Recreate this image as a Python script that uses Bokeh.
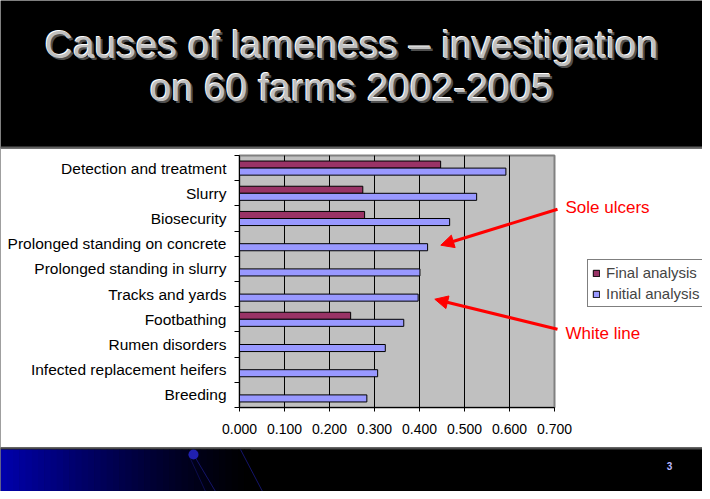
from bokeh.plotting import figure
from bokeh.models import (Range1d, FixedTicker, Arrow, NormalHead, Label, Legend,
                          LegendItem, ColumnDataSource, NumeralTickFormatter)
from bokeh.core.properties import value
from bokeh.embed import file_html
from bokeh.resources import INLINE

# ---------------- data ----------------
title_lines = ["Causes of lameness \u2013 investigation", "on 60 farms 2002-2005"]
categories = ["Detection and treatment", "Slurry", "Biosecurity",
              "Prolonged standing on concrete", "Prolonged standing in slurry",
              "Tracks and yards", "Footbathing", "Rumen disorders",
              "Infected replacement heifers", "Breeding"]
initial_analysis = [0.592, 0.527, 0.467, 0.418, 0.401, 0.397, 0.365, 0.324, 0.307, 0.283]
final_analysis = [0.447, 0.274, 0.278, None, None, None, 0.247, None, None, None]
x_ticks = [0.0, 0.1, 0.2, 0.3, 0.4, 0.5, 0.6, 0.7]
series_names = ["Final analysis", "Initial analysis"]
annotations = ["Sole ulcers", "White line"]
page_number = "3"

FONT = "Liberation Sans"
W, H = 702, 491          # canvas (page offset 8,8)

# layout helpers: page pixel -> data coordinate
PX0, PXU = 247.0, 450.0   # page x of value 0, pixels per unit
PY0, PYU = 415.0, 25.2    # page y of category baseline, pixels per category


def X(px):
    return (px - PX0) / PXU


def Y(py):
    return (PY0 - py) / PYU


n = len(categories)
xmax = max(x_ticks)

p = figure(width=W, height=H, x_range=Range1d(X(8), X(8 + W)), y_range=Range1d(Y(8 + H), Y(8)),
           toolbar_location=None, output_backend="svg", min_border=0,
           background_fill_color="black", border_fill_color="black",
           outline_line_color=None)

# ---- slide decoration ----
p.quad(left=[X(8)], right=[X(720)], top=[Y(156)], bottom=[Y(455)], fill_color="white", line_color=None)
p.quad(left=[X(8)], right=[X(720)], top=[Y(154)], bottom=[Y(156)], fill_color="#606060", line_color=None)
p.quad(left=[X(8)], right=[X(720)], top=[Y(455)], bottom=[Y(457)], fill_color="#4a4a4a", line_color=None)
steps = 40
span = 250.0
gl, gr, gc = [], [], []
for k in range(steps):
    f = 1 - k / steps
    gl.append(X(8 + k * span / steps))
    gr.append(X(8 + (k + 1) * span / steps + 0.6))
    gc.append("#%02x%02x%02x" % (0, 0, int(170 * f ** 1.3)))
p.quad(left=gl, right=gr, top=[Y(457)] * steps, bottom=[Y(500)] * steps, fill_color=gc, line_color=None)
p.line(x=[X(201), X(223)], y=[Y(462), Y(499)], line_color="#14146a", line_width=1)
p.line(x=[X(196), X(213)], y=[Y(462), Y(499)], line_color="#0c0c50", line_width=1)
p.line(x=[X(248), X(270)], y=[Y(457), Y(499)], line_color="#14146a", line_width=1)
p.scatter(x=[X(201)], y=[Y(462)], size=10, fill_color="#2020b0", line_color=None)
p.text(x=[X(677)], y=[Y(473)], text=[page_number], text_color="#b8b8ff", text_font=value(FONT),
       text_font_size="10px", text_font_style="bold", text_align="center", text_baseline="middle")

# title
ty_px = [52, 95]
common = dict(text=title_lines, text_align="center", text_baseline="middle",
              text_font=value(FONT), text_font_size="39px")
p.text(x=[X(361)] * 2, y=[Y(v + 2) for v in ty_px], text_color="#505050", **common)
p.text(x=[X(358)] * 2, y=[Y(v - 1) for v in ty_px], text_color="#ffffff", **common)
p.text(x=[X(359)] * 2, y=[Y(v) for v in ty_px], text_color="#c0c0c0", **common)

# ---- chart ----
p.quad(left=[0], right=[xmax], bottom=[0], top=[n], fill_color="#c0c0c0",
       line_color="#808080", line_width=2)
p.segment(x0=x_ticks[1:-1], x1=x_ticks[1:-1], y0=[0] * (len(x_ticks) - 2), y1=[n] * (len(x_ticks) - 2),
          line_color="black", line_width=1)

centers = [n - 1 - i + 0.5 for i in range(n)]
bar_h = 0.28
src_i = ColumnDataSource(dict(y=[c - bar_h / 2 for c in centers], right=initial_analysis))
fy = [c + bar_h / 2 for c, v in zip(centers, final_analysis) if v is not None]
fv = [v for v in final_analysis if v is not None]
src_f = ColumnDataSource(dict(y=fy, right=fv))

rf = p.hbar(y="y", left=0, right="right", height=bar_h, source=src_f,
            fill_color="#993366", line_color="black", line_width=1)
ri = p.hbar(y="y", left=0, right="right", height=bar_h, source=src_i,
            fill_color="#9999ff", line_color="black", line_width=1)

p.grid.visible = False

# y axis (categories between boundary ticks)
yax = p.yaxis[0]
yax.fixed_location = 0
yax.bounds = (0, n)
yax.ticker = FixedTicker(ticks=centers, minor_ticks=list(range(0, n + 1)))
yax.major_label_overrides = {c: name for c, name in zip(centers, categories)}
yax.major_tick_line_color = None
yax.major_tick_out = 0
yax.major_tick_in = 0
yax.minor_tick_out = 5
yax.minor_tick_in = 0
yax.minor_tick_line_color = "black"
yax.major_label_standoff = 8
yax.major_label_text_font = FONT
yax.major_label_text_font_size = "15.5px"
yax.major_label_text_color = "black"
yax.axis_line_color = "black"

# x axis
xax = p.xaxis[0]
xax.fixed_location = 0
xax.bounds = (0, xmax)
xax.ticker = FixedTicker(ticks=x_ticks)
xax.formatter = NumeralTickFormatter(format="0.000")
xax.major_tick_out = 4
xax.major_tick_in = 0
xax.minor_tick_out = 0
xax.major_label_standoff = 12
xax.major_label_text_font = FONT
xax.major_label_text_font_size = "14px"
xax.major_label_text_color = "black"
xax.axis_line_color = "black"

# legend
legend = Legend(items=[LegendItem(label=series_names[0], renderers=[rf]),
                       LegendItem(label=series_names[1], renderers=[ri])],
                location=(587, 184), orientation="vertical",
                label_text_font=FONT, label_text_font_size="15px",
                glyph_width=8, glyph_height=8, label_standoff=6,
                label_height=17, spacing=4, padding=4, margin=0,
                border_line_color="black", border_line_width=1,
                background_fill_color="white", background_fill_alpha=1.0)
p.add_layout(legend, "center")

# arrows and notes
for (xs, ys, xe, ye) in [(565, 216.7, 448.3, 252.7), (565, 336.7, 442.3, 306.7)]:
    p.add_layout(Arrow(end=NormalHead(size=13, fill_color="red", line_color="red"),
                       x_start=X(xs), y_start=Y(ys), x_end=X(xe), y_end=Y(ye),
                       line_color="red", line_width=3))
for txt, yy in zip(annotations, [215, 341]):
    p.add_layout(Label(x=X(573), y=Y(yy), text=txt, text_color="red", text_font=FONT,
                       text_font_size="17px", text_baseline="middle", text_align="left"))

open("out.html", "w").write(file_html(p, INLINE))
